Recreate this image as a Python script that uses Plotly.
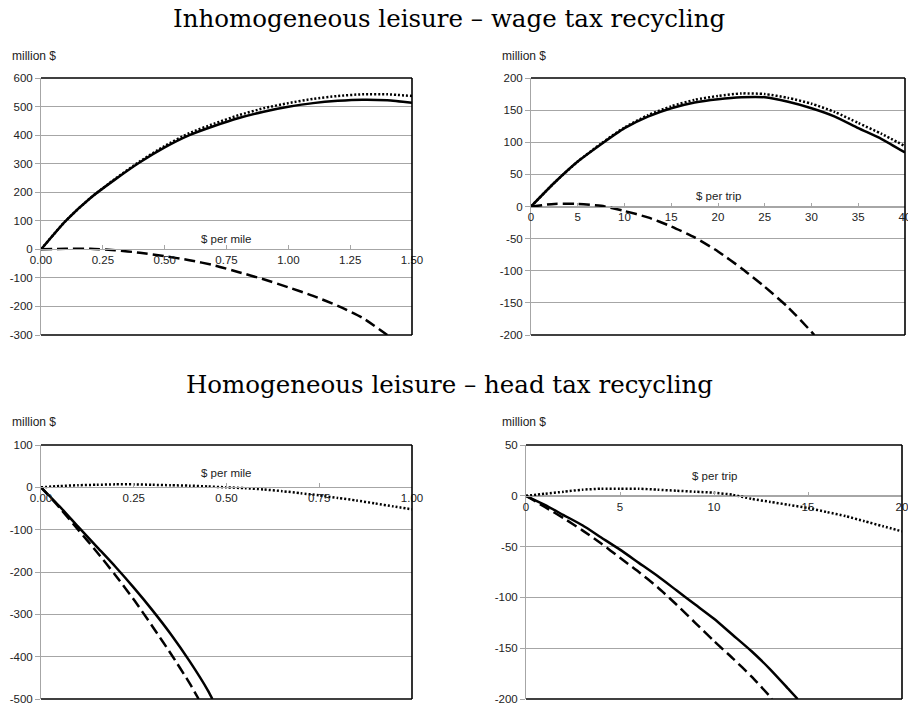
import plotly.graph_objects as go

# ---------------- data ----------------
# Panel 1: Inhomogeneous leisure, $ per mile
p1_x_solid = [0, 0.1, 0.2, 0.3, 0.4, 0.5, 0.6, 0.7, 0.8, 0.9, 1.0, 1.1, 1.2, 1.3, 1.4, 1.5]
p1_solid = [0, 100, 180, 245, 305, 357, 400, 432, 460, 482, 499, 512, 520, 524, 522, 513]
p1_dotted = [0, 100, 180, 247, 308, 362, 407, 440, 470, 494, 512, 527, 537, 543, 543, 537]
p1_x_dashed = [0, 0.1, 0.2, 0.3, 0.4, 0.5, 0.6, 0.7, 0.8, 0.9, 1.0, 1.1, 1.2, 1.3, 1.4]
p1_dashed = [0, 2, 2, -3, -12, -24, -38, -56, -80, -105, -133, -163, -198, -240, -300]

# Panel 2: Inhomogeneous leisure, $ per trip
p2_x = [0, 2.5, 5, 7.5, 10, 12.5, 15, 17.5, 20, 22.5, 25, 27.5, 30, 32.5, 35, 37.5, 40]
p2_solid = [0, 37, 70, 97, 122, 140, 153, 162, 167, 170, 170, 163, 153, 140, 122, 105, 84]
p2_dotted = [0, 37, 70, 98, 123, 142, 156, 166, 172, 176, 175, 169, 160, 147, 130, 113, 94]
p2_x_dashed = [0, 2.5, 5, 7.5, 10, 12.5, 15, 17.5, 20, 22.5, 25, 27.5, 30, 30.3]
p2_dashed = [0, 4, 4, 1, -7, -17, -31, -48, -70, -96, -125, -157, -195, -200]

# Panel 3: Homogeneous leisure, $ per mile
p3_x_solid = [0, 0.05, 0.1, 0.15, 0.2, 0.25, 0.3, 0.35, 0.4, 0.45, 0.462]
p3_solid = [0, -45, -93, -140, -187, -237, -290, -347, -410, -480, -500]
p3_x_dashed = [0, 0.05, 0.1, 0.15, 0.2, 0.25, 0.3, 0.35, 0.4, 0.425]
p3_dashed = [0, -48, -100, -152, -207, -265, -328, -393, -462, -500]
p3_x_dotted = [0, 0.05, 0.1, 0.15, 0.2, 0.25, 0.3, 0.35, 0.4, 0.45, 0.5, 0.55, 0.6, 0.65, 0.7,
               0.75, 0.8, 0.85, 0.9, 0.95, 1.0]
p3_dotted = [0, 3, 5, 6, 7, 7, 6, 5, 4, 2, 0, -2, -5, -9, -14, -19, -25, -31, -38, -45, -52]

# Panel 4: Homogeneous leisure, $ per trip
p4_x_solid = [0, 1, 2, 3, 4, 5, 6, 7, 8, 9, 10, 11, 12, 13, 14, 14.45]
p4_solid = [0, -9, -19, -29, -41, -53, -66, -79, -93, -107, -121, -137, -153, -171, -191, -200]
p4_x_dashed = [0, 1, 2, 3, 4, 5, 6, 7, 8, 9, 10, 11, 12, 13, 13.08]
p4_dashed = [0, -11, -22, -34, -47, -61, -75, -90, -107, -125, -143, -160, -178, -198, -200]
p4_x_dotted = [0, 1, 2, 3, 4, 5, 6, 7, 8, 9, 10, 11, 12, 13, 14, 15, 16, 17, 18, 19, 20]
p4_dotted = [0, 2, 4, 6, 7, 7, 7, 6, 5, 4, 3, 1, -3, -6, -9, -12, -16, -20, -25, -30, -35]

# tick values / labels
p1_yticks = [-300, -200, -100, 0, 100, 200, 300, 400, 500, 600]
p1_xticks = [0, 0.25, 0.5, 0.75, 1.0, 1.25, 1.5]
p2_yticks = [-200, -150, -100, -50, 0, 50, 100, 150, 200]
p2_xticks = [0, 5, 10, 15, 20, 25, 30, 35, 40]
p3_yticks = [-500, -400, -300, -200, -100, 0, 100]
p3_xticks = [0, 0.25, 0.5, 0.75, 1.0]
p4_yticks = [-200, -150, -100, -50, 0, 50]
p4_xticks = [0, 5, 10, 15, 20]

titles = ["Inhomogeneous leisure \u2013 wage tax recycling",
          "Homogeneous leisure \u2013 head tax recycling"]
y_label = "million $"
x_labels = ["$ per mile", "$ per trip", "$ per mile", "$ per trip"]

# ---------------- layout geometry ----------------
W, H = 908, 706
def fx(px):
    return px / W
def fy(py):
    return 1 - py / H

panels = [
    dict(xd=[fx(41), fx(412)], yd=[fy(335), fy(78)], xr=[0, 1.5], yr=[-300, 600],
         xt=p1_xticks, yt=p1_yticks, fmt="{:.2f}", lab_shift=2),
    dict(xd=[fx(531), fx(905)], yd=[fy(335), fy(78)], xr=[0, 40], yr=[-200, 200],
         xt=p2_xticks, yt=p2_yticks, fmt="{:d}", lab_shift=2),
    dict(xd=[fx(41), fx(412)], yd=[fy(699), fy(445)], xr=[0, 1.0], yr=[-500, 100],
         xt=p3_xticks, yt=p3_yticks, fmt="{:.2f}", lab_shift=6),
    dict(xd=[fx(526), fx(902)], yd=[fy(699), fy(445)], xr=[0, 20], yr=[-200, 50],
         xt=p4_xticks, yt=p4_yticks, fmt="{:d}", lab_shift=12),
]

series = [
    [(p1_x_solid, p1_solid, "solid"), (p1_x_solid, p1_dotted, "dot"), (p1_x_dashed, p1_dashed, "dash")],
    [(p2_x, p2_solid, "solid"), (p2_x, p2_dotted, "dot"), (p2_x_dashed, p2_dashed, "dash")],
    [(p3_x_solid, p3_solid, "solid"), (p3_x_dotted, p3_dotted, "dot"), (p3_x_dashed, p3_dashed, "dash")],
    [(p4_x_solid, p4_solid, "solid"), (p4_x_dotted, p4_dotted, "dot"), (p4_x_dashed, p4_dashed, "dash")],
]

dash_map = {"solid": "solid", "dot": "2px,2px", "dash": "11px,5px"}

GRID = "#a6a6a6"
TXT = "#222222"
tickfont = dict(family="Liberation Sans, Arial, sans-serif", size=11.5, color=TXT)

fig = go.Figure()
layout = dict(
    template="none",
    width=W, height=H,
    margin=dict(l=0, r=0, t=0, b=0, pad=0, autoexpand=False),
    paper_bgcolor="white", plot_bgcolor="white",
    showlegend=False,
)
shapes = []
annotations = []

for i, (p, ser) in enumerate(zip(panels, series)):
    n = i + 1
    xa = "x" if n == 1 else f"x{n}"
    ya = "y" if n == 1 else f"y{n}"
    xkey = "xaxis" if n == 1 else f"xaxis{n}"
    ykey = "yaxis" if n == 1 else f"yaxis{n}"
    for xs, ys, st in ser:
        fig.add_trace(go.Scatter(x=xs, y=ys, mode="lines", xaxis=xa, yaxis=ya,
                                 line=dict(color="black", width=2.5, dash=dash_map[st],
                                           shape="spline", smoothing=0.6),
                                 hoverinfo="skip", cliponaxis=True))
    y0, y1 = p["yr"]
    zero_frac = (0 - y0) / (y1 - y0)
    pos = p["yd"][0] + zero_frac * (p["yd"][1] - p["yd"][0])
    layout[xkey] = dict(domain=p["xd"], range=p["xr"], anchor="free", position=pos,
                        automargin=False, showgrid=False, zeroline=False,
                        showline=True, linecolor=GRID, linewidth=1,
                        ticks="inside", ticklen=4, tickcolor=GRID, tickwidth=1,
                        tickmode="array", tickvals=p["xt"],
                        ticktext=[p["fmt"].format(v) for v in p["xt"]],
                        ticklabeloverflow="allow",
                        tickfont=tickfont, fixedrange=True)
    layout[ykey] = dict(domain=p["yd"], range=p["yr"], anchor=xa, automargin=False,
                        showgrid=True, gridcolor=GRID, gridwidth=1, zeroline=False,
                        showline=True, linecolor=GRID, linewidth=1,
                        ticks="outside", ticklen=5, tickcolor=GRID, tickwidth=1,
                        tickmode="array", tickvals=p["yt"],
                        ticktext=[str(v) for v in p["yt"]],
                        ticklabeloverflow="allow",
                        tickfont=tickfont, fixedrange=True)
    # black frame on top, right, bottom
    for (x0, yy0, x1, yy1) in [(0, 1, 1, 1), (1, 0, 1, 1), (0, 0, 1, 0)]:
        shapes.append(dict(type="line", xref=f"{xa} domain", yref=f"{ya} domain",
                           x0=x0, y0=yy0, x1=x1, y1=yy1, layer="above",
                           line=dict(color="black", width=1.6)))
    # x axis title above zero line
    annotations.append(dict(text=x_labels[i], xref=xa, yref=ya,
                            x=(p["xr"][0] + p["xr"][1]) / 2, y=0,
                            xanchor="center", yanchor="bottom", yshift=p["lab_shift"],
                            showarrow=False, font=tickfont))
    # million $ label
    annotations.append(dict(text=y_label, xref="paper", yref="paper",
                            x=fx(10 if n in (1, 3) else 500),
                            y=fy(56 if n in (1, 2) else 422),
                            xanchor="left", yanchor="middle", showarrow=False,
                            font=dict(family="Liberation Sans, Arial, sans-serif", size=12, color=TXT)))

title_font = dict(family="DejaVu Serif, serif", size=24.5, color="black")
annotations.append(dict(text=titles[0], xref="paper", yref="paper", x=fx(449), y=fy(19),
                        xanchor="center", yanchor="middle", showarrow=False, font=title_font))
annotations.append(dict(text=titles[1], xref="paper", yref="paper", x=fx(449), y=fy(384),
                        xanchor="center", yanchor="middle", showarrow=False, font=title_font))

layout["shapes"] = shapes
layout["annotations"] = annotations
fig.update_layout(**layout)
fig.write_html("out.html", config={"displayModeBar": False},
               post_script="document.body.style.margin='0';document.body.style.overflow='hidden';")
